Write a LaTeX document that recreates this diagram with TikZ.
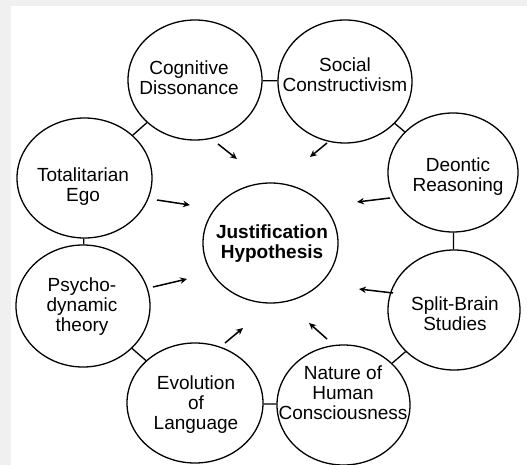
\documentclass[tikz,border=0pt]{standalone}
\usepackage{fontspec}
\setmainfont{Liberation Sans}
\usetikzlibrary{shapes.geometric,arrows.meta}
\definecolor{bggray}{HTML}{F0F0F0}
\begin{document}
\begin{tikzpicture}[x=1pt,y=-1pt,
  ell/.style={draw, ellipse, line width=1.3pt, inner sep=0pt},
  lbl/.style={align=center, font=\fontsize{19}{20}\selectfont, inner sep=0pt},
  link/.style={line width=1.3pt},
  arr/.style={line width=1.5pt, -{Stealth[length=7pt,width=6.5pt]}}]
\useasboundingbox (0,0) rectangle (527,465);
\fill[bggray] (0,0) rectangle (527,465);
\fill[white] (11,6) rectangle (527,465);
% ellipses
\node[ell, minimum width=134pt, minimum height=120pt] (cog)  at (195,80) {};
\node[ell, minimum width=134pt, minimum height=123pt] (soc)  at (345,81.5) {};
\node[ell, minimum width=135pt, minimum height=120pt] (tot)  at (84.5,178) {};
\node[ell, minimum width=130pt, minimum height=119pt] (deo)  at (453,172.5) {};
\node[ell, minimum width=135pt, minimum height=120pt] (just) at (270.5,243) {};
\node[ell, minimum width=134pt, minimum height=122pt] (psy)  at (83,306) {};
\node[ell, minimum width=132pt, minimum height=120pt] (spl)  at (454,310) {};
\node[ell, minimum width=136pt, minimum height=120pt] (evo)  at (195,403) {};
\node[ell, minimum width=133pt, minimum height=120pt] (nat)  at (343.5,405) {};
% labels
\node[lbl] (cogT)  at (189,78)    {Cognitive\\Dissonance};
\node[lbl] (socT)  at (345,75)    {Social\\Constructivism};
\node[lbl] (totT)  at (83,186.5)  {Totalitarian\\Ego};
\node[lbl] (deoT)  at (458,177)   {Deontic\\Reasoning};
\node[lbl, font=\fontsize{19}{20}\selectfont\bfseries] (justT) at (272,244) {Justification\\Hypothesis};
\node[lbl] (psyT)  at (82,307)    {Psycho-\\dynamic\\theory};
\node[lbl] (splT)  at (455,314)   {Split-Brain\\Studies};
\node[lbl] (evoT)  at (196,405)   {Evolution\\of\\Language};
\node[lbl] (natT)  at (343,392.5) {Nature of\\Human\\Consciousness};
% ring links
\draw[link] (cog) -- (soc);
\draw[link] (soc) -- (deo);
\draw[link] (deo) -- (spl);
\draw[link] (spl) -- (nat);
\draw[link] (nat) -- (evo);
\draw[link] (evo) -- (psy);
\draw[link] (psy) -- (tot);
\draw[link] (tot) -- (cog);
% arrows toward the centre
\coordinate (a1s) at (218,144); \coordinate (a1e) at (237,159);
\coordinate (a2s) at (327,143); \coordinate (a2e) at (310,157);
\coordinate (a3s) at (157,200); \coordinate (a3e) at (190,205);
\coordinate (a4s) at (390,198); \coordinate (a4e) at (357,202);
\coordinate (a5s) at (153,287); \coordinate (a5e) at (187,279);
\coordinate (a6s) at (393,293); \coordinate (a6e) at (359,289);
\coordinate (a7s) at (225,343); \coordinate (a7e) at (243,328);
\coordinate (a8s) at (327,339); \coordinate (a8e) at (309,323);
\draw[arr] (a1s) -- (a1e);
\draw[arr] (a2s) -- (a2e);
\draw[arr] (a3s) -- (a3e);
\draw[arr] (a4s) -- (a4e);
\draw[arr] (a5s) -- (a5e);
\draw[arr] (a6s) -- (a6e);
\draw[arr] (a7s) -- (a7e);
\draw[arr] (a8s) -- (a8e);
\end{tikzpicture}
\end{document}
